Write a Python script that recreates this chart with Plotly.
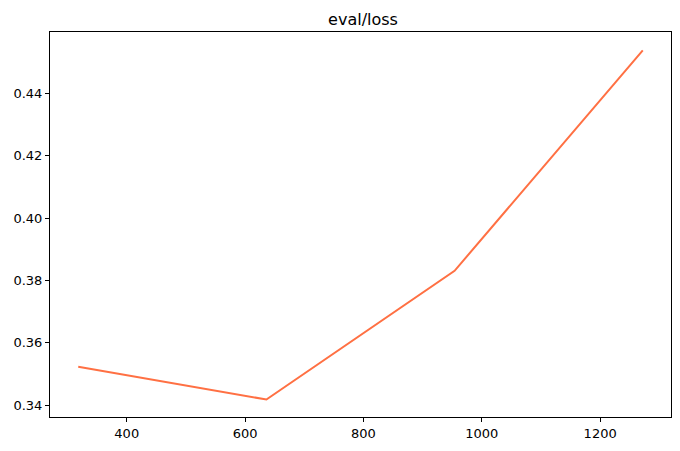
import plotly.graph_objects as go

steps = [318, 636, 954, 1272]
eval_loss = [0.3523, 0.3418, 0.3831, 0.4538]
x_ticks = [400, 600, 800, 1000, 1200]
y_ticks = [0.34, 0.36, 0.38, 0.40, 0.42, 0.44]
y_tick_labels = ["0.34", "0.36", "0.38", "0.40", "0.42", "0.44"]

fig = go.Figure()
fig.add_trace(go.Scatter(x=steps, y=eval_loss, mode="lines",
                         line=dict(color="#ff7043", width=2), showlegend=False))

axis_common = dict(showgrid=False, zeroline=False, showline=True, linecolor="black",
                   linewidth=1, mirror=True, ticks="outside", ticklen=4,
                   tickcolor="black", tickwidth=1, automargin=False,
                   tickfont=dict(family="DejaVu Sans", size=13, color="black"))

# the page body has an 8px default margin, so the figure is sized to fit after it
W, H = 672, 443
fig.update_layout(
    width=W, height=H,
    margin=dict(l=42, r=9, t=24, b=34),
    paper_bgcolor="white", plot_bgcolor="white",
    title=dict(text="eval/loss", x=355 / W, xanchor="center", y=1 - 11 / H, yanchor="middle",
               font=dict(family="DejaVu Sans", size=16, color="black")),
    xaxis=dict(range=[270.3, 1319.7], tickvals=x_ticks, **axis_common),
    yaxis=dict(range=[0.3362, 0.4597], tickvals=y_ticks, ticktext=y_tick_labels, **axis_common),
)

fig.write_html("out.html")
